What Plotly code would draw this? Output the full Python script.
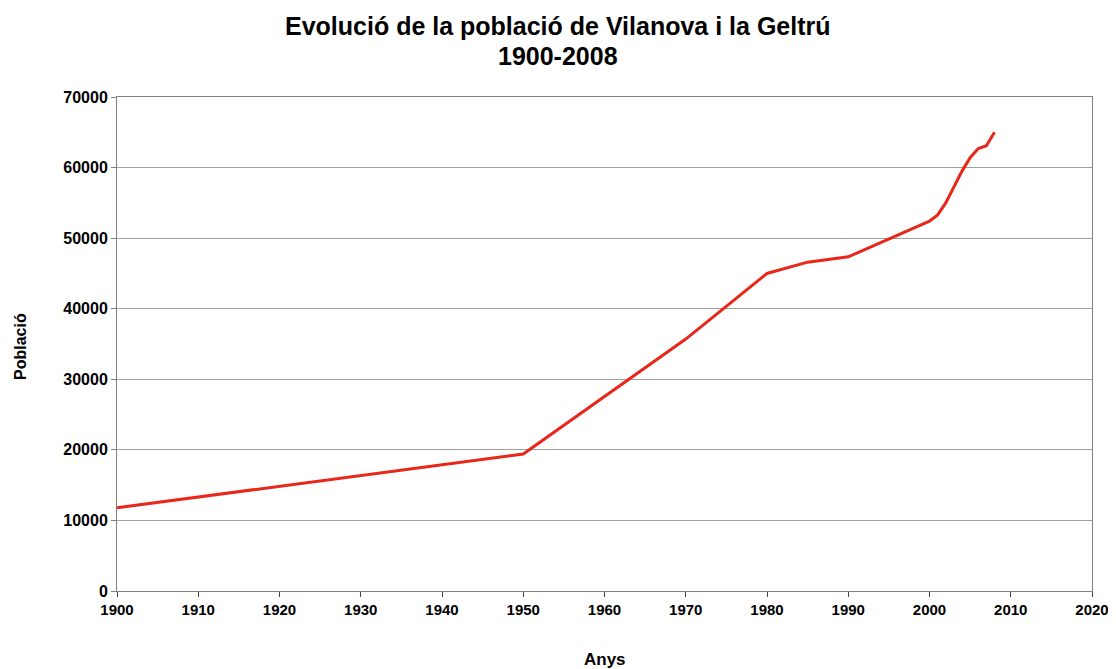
import plotly.graph_objects as go

years = [1900, 1950, 1970, 1980, 1985, 1990, 2000, 2001, 2002, 2003, 2004, 2005, 2006, 2007, 2008]
population = [11800, 19400, 35700, 45000, 46600, 47350, 52400, 53300, 55000, 57300, 59500, 61400, 62700, 63100, 65000]

title_line1 = "Evolució de la població de Vilanova i la Geltrú"
title_line2 = "1900-2008"
x_title = "Anys"
y_title = "Població"

font_family = "Liberation Sans, Arial, sans-serif"
W, H = 1116, 669
# the page body adds an 8px offset; compensate in margins
OFF = 8
L, R, T, B = 117 - OFF, 24 + OFF, 97 - OFF, 78 + OFF

fig = go.Figure()
fig.add_trace(go.Scatter(
    x=years, y=population, mode="lines",
    line=dict(color="#E8261A", width=3),
    showlegend=False, hoverinfo="x+y",
))

annotations = [
    dict(text="<b>" + title_line1 + "</b>", xref="paper", yref="paper",
         x=(558 - OFF - L) / (W - L - R), y=1 + (T - (26 - OFF)) / (H - T - B),
         xanchor="center", yanchor="middle", showarrow=False,
         font=dict(size=25, family=font_family, color="black")),
    dict(text="<b>" + title_line2 + "</b>", xref="paper", yref="paper",
         x=(558 - OFF - L) / (W - L - R), y=1 + (T - (56 - OFF)) / (H - T - B),
         xanchor="center", yanchor="middle", showarrow=False,
         font=dict(size=25, family=font_family, color="black")),
    dict(text="<b>" + x_title + "</b>", xref="paper", yref="paper",
         x=(605 - OFF - L) / (W - L - R), y=-((659 - OFF) - (H - B)) / (H - T - B),
         xanchor="center", yanchor="middle", showarrow=False,
         font=dict(size=17, family=font_family, color="black")),
    dict(text="<b>" + y_title + "</b>", xref="paper", yref="paper",
         x=-(L - (20 - OFF)) / (W - L - R), y=(591 - 347) / (591 - 97),
         xanchor="center", yanchor="middle", showarrow=False, textangle=-90,
         font=dict(size=16, family=font_family, color="black")),
]

fig.update_layout(
    width=W, height=H,
    paper_bgcolor="white", plot_bgcolor="white",
    margin=dict(l=L, r=R, t=T, b=B, autoexpand=False),
    font=dict(family=font_family, color="black"),
    annotations=annotations,
)
fig.update_xaxes(
    range=[1900, 2020], dtick=10, tick0=1900,
    showgrid=False, showline=True, linecolor="#808080", linewidth=1, mirror=True,
    ticks="outside", ticklen=5, tickcolor="#404040",
    tickfont=dict(size=15, family=font_family, color="black"),
    tickprefix="<b>", ticksuffix="</b>",
    zeroline=False, automargin=False,
)
fig.update_yaxes(
    range=[0, 70000], dtick=10000, tickformat="d",
    showgrid=True, gridcolor="#A0A0A0", gridwidth=1,
    showline=True, linecolor="#808080", linewidth=1, mirror=True,
    ticks="outside", ticklen=5, tickcolor="#808080",
    tickfont=dict(size=16, family=font_family, color="black"),
    tickprefix="<b>", ticksuffix="</b>",
    zeroline=False, automargin=False,
)

fig.write_html("out.html")
